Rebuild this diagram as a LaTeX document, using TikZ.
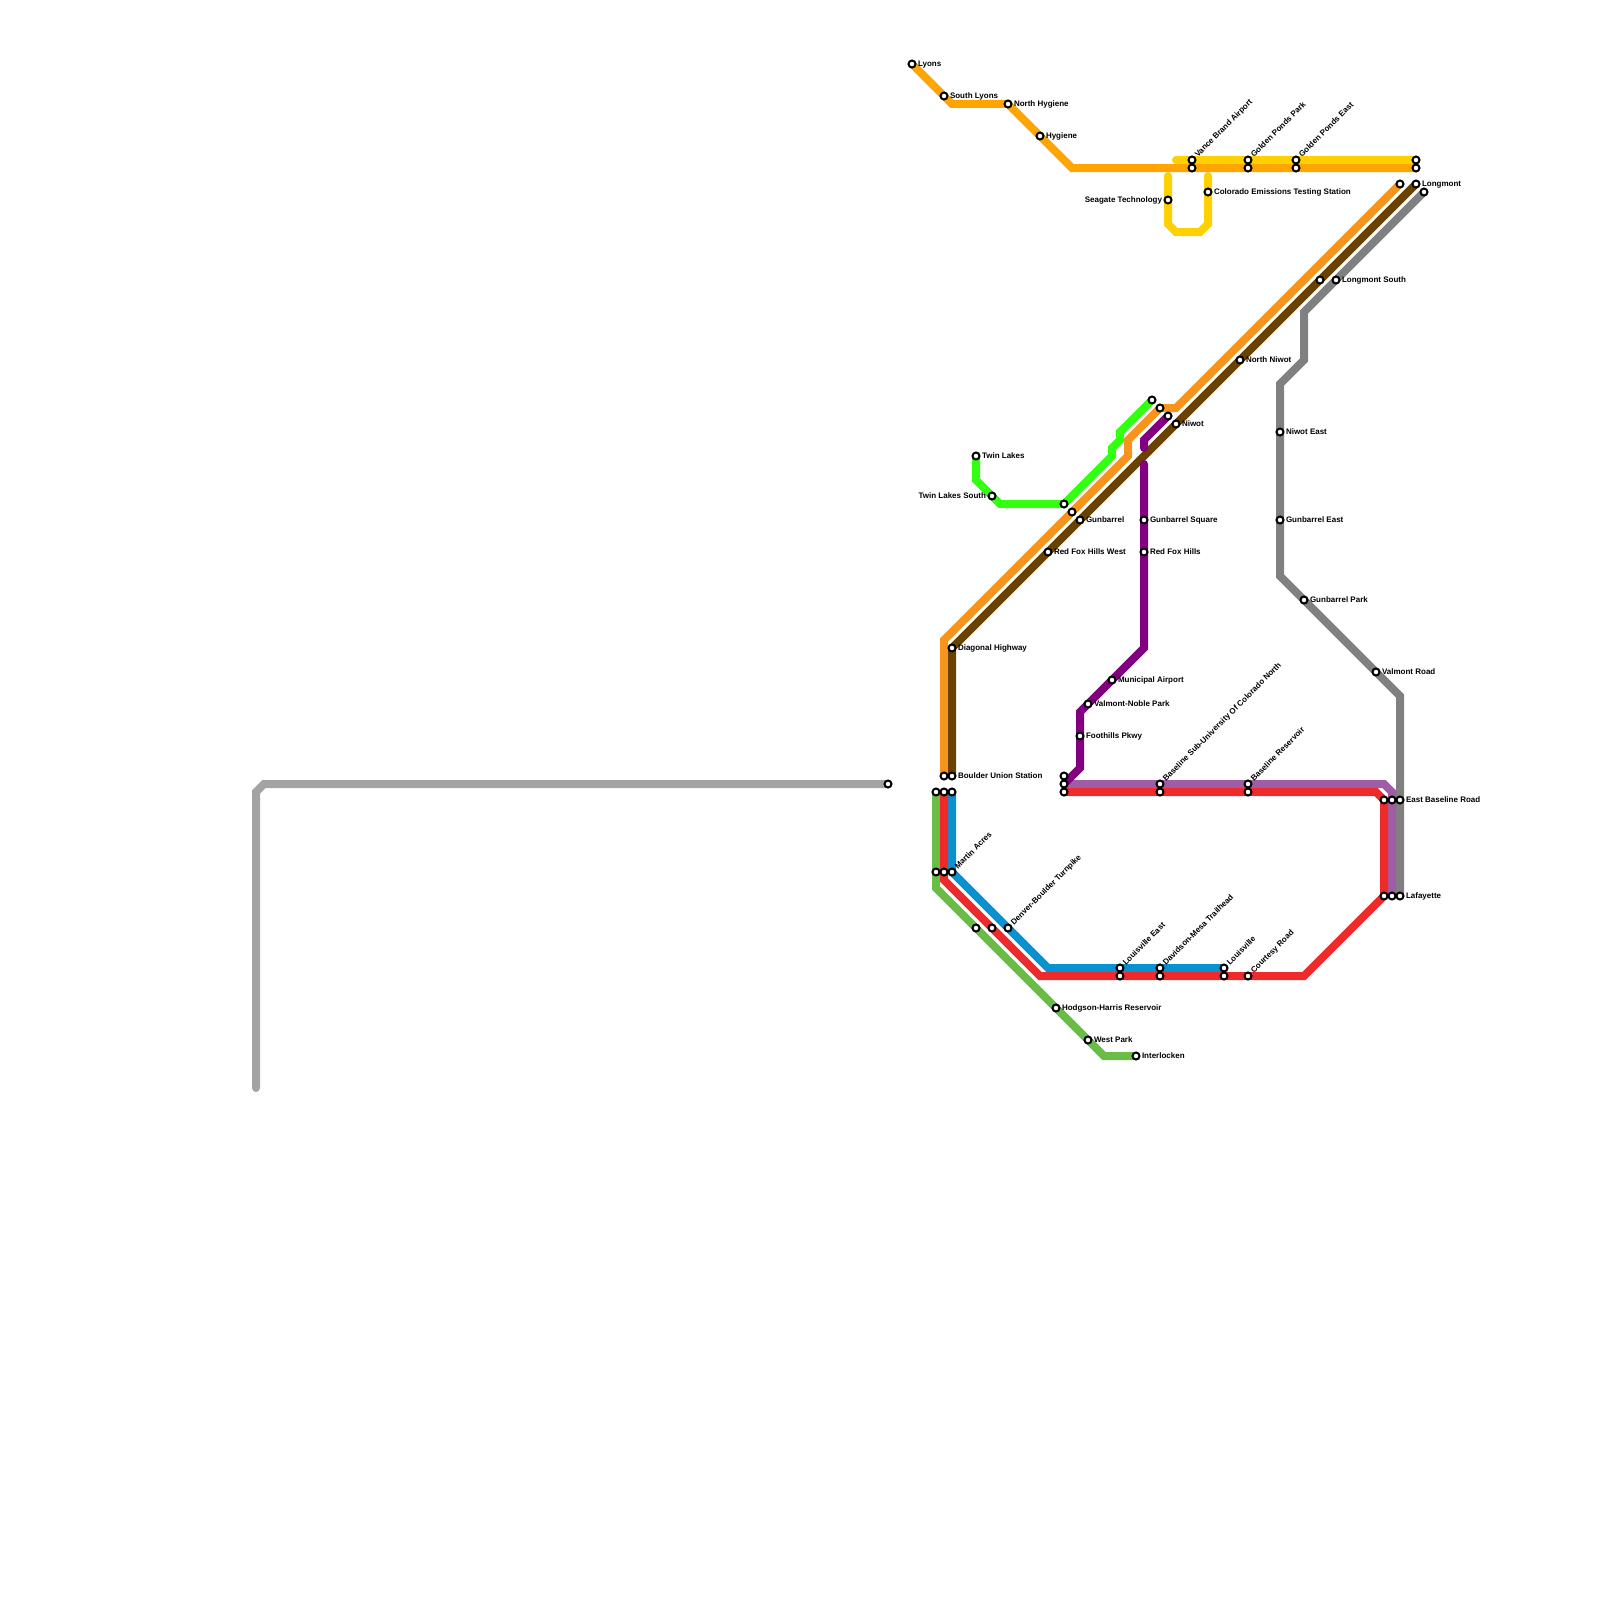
\documentclass[tikz,border=0pt]{standalone}
\usepackage{fontspec}
\setmainfont{Liberation Sans}
\definecolor{amber}{HTML}{FFA500}
\definecolor{sun}{HTML}{FFD000}
\definecolor{tangerine}{HTML}{F7941D}
\definecolor{umber}{HTML}{6B4100}
\definecolor{slate}{HTML}{808080}
\definecolor{ash}{HTML}{A3A3A3}
\definecolor{plum}{HTML}{800080}
\definecolor{mauve}{HTML}{A05DA5}
\definecolor{scarlet}{HTML}{EE2A2A}
\definecolor{azure}{HTML}{0A91D0}
\definecolor{grass}{HTML}{69BD45}
\definecolor{lime}{HTML}{33FF11}
\tikzset{
  rail/.style={line width=8pt, line cap=round, line join=miter},
  stn/.style={circle, draw=black, fill=white, line width=2pt, minimum size=7pt, inner sep=0pt},
  lbl/.style={font=\bfseries\fontsize{8}{9}\selectfont, inner sep=1.3pt, text=black, text height=6.2pt, text depth=1.2pt},
  lblr/.style={lbl, anchor=west},
  lbll/.style={lbl, anchor=east},
  lbla/.style={lbl, anchor=west, rotate=45},
}
\begin{document}
\begin{tikzpicture}[x=8pt, y=-8pt]
  \useasboundingbox (0,0) rectangle (200,200);
  \draw[rail, ash] (111,98) -- (33,98) -- (32,99) -- (32,136);
  \draw[rail, sun] (147,20) -- (177,20);
  \draw[rail, sun] (146,22) -- (146,28) -- (147,29) -- (150,29) -- (151,28) -- (151,22);
  \draw[rail, amber] (114,8) -- (119,13) -- (126,13) -- (134,21) -- (177,21);
  \draw[rail, slate] (178,24) -- (163,39) -- (163,45) -- (160,48) -- (160,72) -- (175,87) -- (175,112);
  \draw[rail, mauve] (133,98) -- (173,98) -- (174,99) -- (174,112);
  \draw[rail, grass] (117,99) -- (117,111) -- (138,132) -- (142,132);
  \draw[rail, azure] (119,99) -- (119,109) -- (131,121) -- (153,121);
  \draw[rail, scarlet] (133,99) -- (172,99) -- (173,100) -- (173,112) -- (163,122) -- (130,122) -- (118,110) -- (118,99);
  \draw[rail, tangerine] (175,23) -- (147,51) -- (145,51) -- (141,55) -- (141,57) -- (118,80) -- (118,97);
  \draw[rail, umber] (177,23) -- (119,81) -- (119,97);
  \draw[rail, plum] (133,98) -- (135,96) -- (135,89) -- (143,81) -- (143,58);
  \draw[rail, plum] (146,52) -- (143,55) -- (143,56);
  \draw[rail, lime] (122,57) -- (122,60) -- (125,63) -- (133,63) -- (139,57) -- (139,56) -- (140,55) -- (140,54) -- (144,50);

  % stations without a name of their own
  \foreach \n/\p in {a/149,b/156,c/162,d/177}
    \node[stn] (top\n) at (\p,21) {};
  \foreach \n/\p in {a/117,b/118}
    \node[stn] (acres\n) at (\p,109) {};
  \foreach \n/\p in {a/117,b/118,c/119}
    \node[stn] (union\n) at (\p,99) {};
  \foreach \n/\p in {a/140,b/145,c/153}
    \node[stn] (south\n) at (\p,122) {};
  \foreach \n/\p in {a/133,b/145,c/156}
    \node[stn] (base\n) at (\p,99) {};
  \foreach \n/\p in {a/173,b/174}
    \node[stn] (lafay\n) at (\p,112) {};
  \foreach \n/\p in {a/173,b/174}
    \node[stn] (ebase\n) at (\p,100) {};
  \node[stn] (boulderw) at (118,97) {};
  \node[stn] (baseu) at (133,97) {};
  \node[stn] (based) at (133,98) {};
  \node[stn] (ashend) at (111,98) {};
  \node[stn] (tanga) at (175,23) {};
  \node[stn] (slatea) at (178,24) {};
  \node[stn] (umbera) at (165,35) {};
  \node[stn] (limea) at (133,63) {};
  \node[stn] (limeb) at (144,50) {};
  \node[stn] (tangb) at (134,64) {};
  \node[stn] (tangc) at (145,51) {};
  \node[stn] (plumb) at (146,52) {};
  \node[stn] (grassa) at (122,116) {};
  \node[stn] (scara) at (124,116) {};

  % named stations
  \node[stn] (lyons) at (114,8) {};
  \node[lblr] (lyonsl) at (lyons.east) {Lyons};
  \node[stn] (slyons) at (118,12) {};
  \node[lblr] (slyonsl) at (slyons.east) {South Lyons};
  \node[stn] (nhyg) at (126,13) {};
  \node[lblr] (nhygl) at (nhyg.east) {North Hygiene};
  \node[stn] (hyg) at (130,17) {};
  \node[lblr] (hygl) at (hyg.east) {Hygiene};
  \node[stn] (vance) at (149,20) {};
  \node[lbla] (vancel) at (vance.north east) {Vance Brand Airport};
  \node[stn] (gpark) at (156,20) {};
  \node[lbla] (gparkl) at (gpark.north east) {Golden Ponds Park};
  \node[stn] (geast) at (162,20) {};
  \node[lbla] (geastl) at (geast.north east) {Golden Ponds East};
  \node[stn] (sunend) at (177,20) {};
  \node[stn] (seagate) at (146,25) {};
  \node[lbll] (seagatel) at (seagate.west) {Seagate Technology};
  \node[stn] (cets) at (151,24) {};
  \node[lblr] (cetsl) at (cets.east) {Colorado Emissions Testing Station};
  \node[stn] (longm) at (177,23) {};
  \node[lblr] (longml) at (longm.east) {Longmont};
  \node[stn] (longs) at (167,35) {};
  \node[lblr] (longsl) at (longs.east) {Longmont South};
  \node[stn] (nniwot) at (155,45) {};
  \node[lblr] (nniwotl) at (nniwot.east) {North Niwot};
  \node[stn] (niwot) at (147,53) {};
  \node[lblr] (niwotl) at (niwot.east) {Niwot};
  \node[stn] (neast) at (160,54) {};
  \node[lblr] (neastl) at (neast.east) {Niwot East};
  \node[stn] (twin) at (122,57) {};
  \node[lblr] (twinl) at (twin.east) {Twin Lakes};
  \node[stn] (twins) at (124,62) {};
  \node[lbll] (twinsl) at (twins.west) {Twin Lakes South};
  \node[stn] (gun) at (135,65) {};
  \node[lblr] (gunl) at (gun.east) {Gunbarrel};
  \node[stn] (gsq) at (143,65) {};
  \node[lblr] (gsql) at (gsq.east) {Gunbarrel Square};
  \node[stn] (geb) at (160,65) {};
  \node[lblr] (gebl) at (geb.east) {Gunbarrel East};
  \node[stn] (rfw) at (131,69) {};
  \node[lblr] (rfwl) at (rfw.east) {Red Fox Hills West};
  \node[stn] (rf) at (143,69) {};
  \node[lblr] (rfl) at (rf.east) {Red Fox Hills};
  \node[stn] (gpk) at (163,75) {};
  \node[lblr] (gpkl) at (gpk.east) {Gunbarrel Park};
  \node[stn] (diag) at (119,81) {};
  \node[lblr] (diagl) at (diag.east) {Diagonal Highway};
  \node[stn] (valr) at (172,84) {};
  \node[lblr] (valrl) at (valr.east) {Valmont Road};
  \node[stn] (muni) at (139,85) {};
  \node[lblr] (munil) at (muni.east) {Municipal Airport};
  \node[stn] (vnp) at (136,88) {};
  \node[lblr] (vnpl) at (vnp.east) {Valmont-Noble Park};
  \node[stn] (foot) at (135,92) {};
  \node[lblr] (footl) at (foot.east) {Foothills Pkwy};
  \node[stn] (boulder) at (119,97) {};
  \node[lblr] (boulderl) at (boulder.east) {Boulder Union Station};
  \node[stn] (bsub) at (145,98) {};
  \node[lbla] (bsubl) at (bsub.north east) {Baseline Sub-University Of Colorado North};
  \node[stn] (bres) at (156,98) {};
  \node[lbla] (bresl) at (bres.north east) {Baseline Reservoir};
  \node[stn] (ebr) at (175,100) {};
  \node[lblr] (ebrl) at (ebr.east) {East Baseline Road};
  \node[stn] (martin) at (119,109) {};
  \node[lbla] (martinl) at (martin.north east) {Martin Acres};
  \node[stn] (laf) at (175,112) {};
  \node[lblr] (lafl) at (laf.east) {Lafayette};
  \node[stn] (dbt) at (126,116) {};
  \node[lbla] (dbtl) at (dbt.north east) {Denver-Boulder Turnpike};
  \node[stn] (loue) at (140,121) {};
  \node[lbla] (louel) at (loue.north east) {Louisville East};
  \node[stn] (dmt) at (145,121) {};
  \node[lbla] (dmtl) at (dmt.north east) {Davidson-Mesa Trailhead};
  \node[stn] (lou) at (153,121) {};
  \node[lbla] (loul) at (lou.north east) {Louisville};
  \node[stn] (court) at (156,122) {};
  \node[lbla] (courtl) at (court.north east) {Courtesy Road};
  \node[stn] (hodg) at (132,126) {};
  \node[lblr] (hodgl) at (hodg.east) {Hodgson-Harris Reservoir};
  \node[stn] (wpark) at (136,130) {};
  \node[lblr] (wparkl) at (wpark.east) {West Park};
  \node[stn] (inter) at (142,132) {};
  \node[lblr] (interl) at (inter.east) {Interlocken};
\end{tikzpicture}
\end{document}
